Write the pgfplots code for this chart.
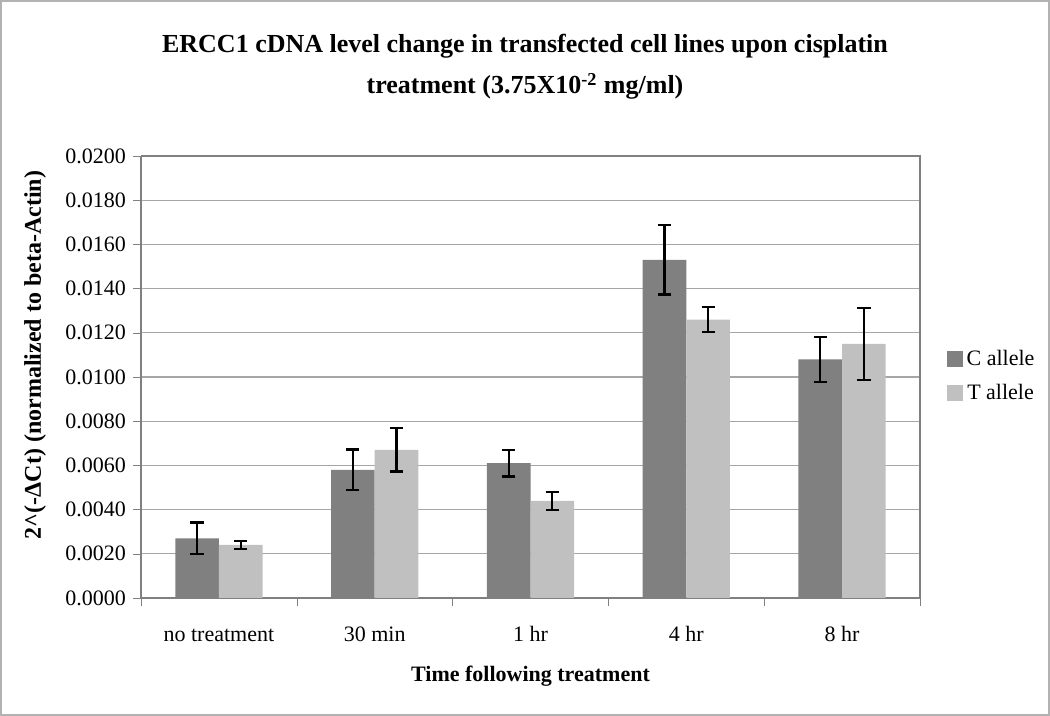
\documentclass[border=0pt]{standalone}
\usepackage{pgfplots}
\pgfplotsset{compat=1.18}
\usepackage{fontspec}
\setmainfont{Liberation Serif}
\definecolor{cdark}{HTML}{808080}
\definecolor{tlight}{HTML}{C0C0C0}
\definecolor{gridc}{HTML}{A6A6A6}
\begin{document}
\begin{tikzpicture}[x=1pt,y=1pt]
\draw[gray!60, line width=1pt] (0.5,0.5) rectangle (524.5,357.5);
\node[font=\bfseries\fontsize{13}{20.5}\selectfont, align=center] at (262.5,324.5)
  {ERCC1 cDNA level change in transfected cell lines upon cisplatin\\treatment (3.75X10\textsuperscript{-2} mg/ml)};
\begin{axis}[
  at={(70.5pt,59pt)}, anchor=south west,
  scale only axis, width=389.5pt, height=221pt,
  ybar=0pt, bar width=0.28,
  xmin=-0.5, xmax=4.5, ymin=0, ymax=0.02,
  xtick={0,1,2,3,4},
  xticklabels={no treatment,30 min,1 hr,4 hr,8 hr},
  major x tick style={draw=none},
  minor xtick={-0.5,0.5,1.5,2.5,3.5,4.5},
  minor x tick style={draw=cdark},
  ytick={0,0.002,...,0.0201},
  scaled y ticks=false,
  yticklabel style={/pgf/number format/.cd, fixed, fixed zerofill, precision=4, assume math mode=true},
  tick label style={font=\fontsize{11}{13}\selectfont},
  tick align=outside,
  major tick length=4pt, minor tick length=4pt,
  ymajorgrids, grid style={gridc, line width=0.6pt},
  axis line style={cdark, line width=0.8pt},
  y tick style={cdark},
  axis x line*=bottom, axis y line*=left,
  xlabel={\bfseries Time following treatment},
  ylabel={\bfseries 2\textasciicircum(-ΔCt) (normalized to beta-Actin)},
  label style={font=\bfseries\fontsize{11}{13}\selectfont},
  xlabel style={at={(axis description cs:0.5,0)}, anchor=center, yshift=-39pt},
  ylabel style={at={(axis description cs:0,0.55)}, anchor=center, rotate=0, yshift=53pt, font=\bfseries\fontsize{12}{14}\selectfont},
  xticklabel style={yshift=-6pt, text height=8pt, text depth=2pt},
  legend style={at={(1.026,0.502)}, anchor=west, draw=none, fill=none,
    font=\fontsize{11}{13}\selectfont, row sep=4pt},
  legend image code/.code={\draw[#1, draw=none] (0pt,-4pt) rectangle (8pt,4pt);},
  clip=false,
]
\addplot[fill=cdark, draw=none, error bars/.cd, y dir=both, y explicit,
  error bar style={black, line width=1.1pt}, error mark options={rotate=90, mark size=3.3pt, line width=1.1pt, black}]
  coordinates {(0,0.0027) +- (0,0.00072) (1,0.0058) +- (0,0.00092) (2,0.0061) +- (0,0.0006) (3,0.0153) +- (0,0.00157) (4,0.0108) +- (0,0.00102)};
\addplot[fill=tlight, draw=none, error bars/.cd, y dir=both, y explicit,
  error bar style={black, line width=1.1pt}, error mark options={rotate=90, mark size=3.3pt, line width=1.1pt, black}]
  coordinates {(0,0.0024) +- (0,0.00018) (1,0.0067) +- (0,0.00098) (2,0.0044) +- (0,0.00041) (3,0.0126) +- (0,0.00055) (4,0.0115) +- (0,0.00162)};
\legend{C allele, T allele}
\draw[cdark, line width=0.8pt] (axis cs:4.5,0) -- (axis cs:4.5,0.02) -- (axis cs:-0.5,0.02);
\end{axis}
\end{tikzpicture}
\end{document}
